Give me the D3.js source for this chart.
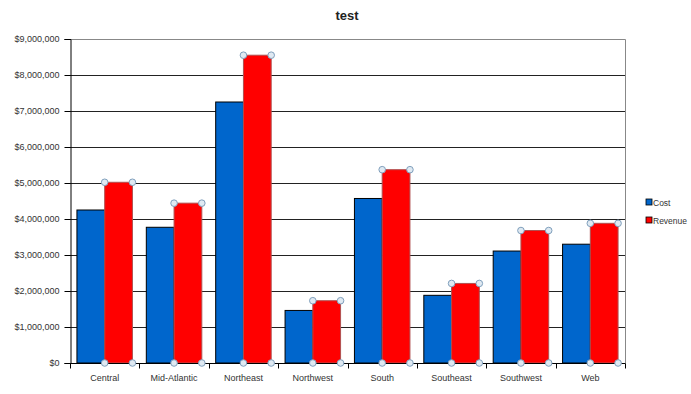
<!DOCTYPE html>
<html><head><meta charset="utf-8">
<script src="https://cdn.jsdelivr.net/npm/d3@7/dist/d3.min.js"></script>
<style>body{margin:0;background:#fff}svg{display:block}text{font-family:"Liberation Sans",Arial,sans-serif}</style>
</head><body><svg id="c" width="691" height="394"></svg>
<script>
const categories=["Central","Mid-Atlantic","Northeast","Northwest","South","Southeast","Southwest","Web"];
const costValues=[4250000,3770000,7250000,1460000,4570000,1880000,3110000,3300000];
const revenueValues=[5020000,4440000,8550000,1730000,5370000,2210000,3680000,3880000];
const seriesNames=["Cost","Revenue"];
const yTicks=[0,1000000,2000000,3000000,4000000,5000000,6000000,7000000,8000000,9000000];
const colors=["#0066cc","#ff0000"];

const svg=d3.select("#c");
const L=70,R=625,T=39,B=363;
const x=d3.scaleBand().domain(categories).range([L,R]).paddingInner(0).paddingOuter(0);
const y=d3.scaleLinear().domain([0,9000000]).range([B,T]);
const inner=0.8;
const bw=x.bandwidth()*inner/2;

// title
svg.append("text").attr("x",347).attr("y",20).attr("text-anchor","middle")
  .attr("font-size",13).attr("font-weight","bold").attr("fill","#222").text("test");

// gridlines
svg.append("g").selectAll("line").data(yTicks.filter(d=>d>0&&d<9000000)).join("line")
  .attr("x1",L).attr("x2",R).attr("y1",d=>Math.round(y(d))+0.5).attr("y2",d=>Math.round(y(d))+0.5)
  .attr("stroke","#222").attr("stroke-width",1);
// plot border top/right
svg.append("path").attr("d",`M${L},${T+0.5}H${R+0.5}V${B}`).attr("fill","none").attr("stroke","#888");

// bars
const data=categories.map((c,i)=>({c,vals:[costValues[i],revenueValues[i]]}));
const g=svg.append("g");
data.forEach(d=>{
  d.vals.forEach((v,k)=>{
    const x0=x(d.c)+x.bandwidth()*(1-inner)/2+k*bw;
    g.append("rect").attr("x",x0).attr("y",y(v)).attr("width",bw).attr("height",y(0)-y(v))
      .attr("fill",colors[k]).attr("stroke",k===0?"#000":"#b05050").attr("stroke-width",1);
  });
});

// y axis
const yAxis=d3.axisLeft(y).tickValues(yTicks).tickSize(6).tickFormat(d=>"$"+d3.format(",")(d));
const ya=svg.append("g").attr("transform",`translate(${L+0.5},0)`).call(yAxis);
ya.select(".domain").attr("stroke","#000");
ya.selectAll(".tick line").attr("stroke","#000");
ya.selectAll("text").attr("font-size",9).attr("fill","#333").attr("x",-11);

// x axis
const xb=svg.append("g").attr("transform",`translate(0,${B+0.5})`);
xb.append("line").attr("x1",L).attr("x2",R+0.5).attr("stroke","#000");
const bounds=d3.range(categories.length+1).map(i=>L+i*x.bandwidth());
xb.selectAll(".tk").data(bounds).join("line").attr("class","tk")
  .attr("x1",d=>Math.round(d)+0.5).attr("x2",d=>Math.round(d)+0.5).attr("y1",0).attr("y2",5).attr("stroke","#000");
xb.selectAll("text").data(categories).join("text")
  .attr("x",d=>x(d)+x.bandwidth()/2).attr("y",17).attr("text-anchor","middle")
  .attr("font-size",9).attr("fill","#333").text(d=>d);

// selection handles on revenue bars
const hs=[];
data.forEach(d=>{
  const x0=x(d.c)+x.bandwidth()*(1-inner)/2+bw;
  const v=d.vals[1];
  hs.push([x0,y(v)],[x0+bw,y(v)],[x0,y(0)],[x0+bw,y(0)]);
});
svg.append("g").selectAll("circle").data(hs).join("circle")
  .attr("cx",d=>d[0]).attr("cy",d=>d[1]).attr("r",3.3)
  .attr("fill","#dfe9f2").attr("stroke","#7f9fbc").attr("stroke-width",1);

// legend
const lg=svg.append("g").attr("transform","translate(646,199)");
seriesNames.forEach((n,i)=>{
  lg.append("rect").attr("x",0).attr("y",i*18).attr("width",6).attr("height",6)
    .attr("fill",colors[i]).attr("stroke","#000").attr("stroke-width",0.8);
  lg.append("text").attr("x",7).attr("y",i*18+6.5).attr("font-size",8.5).attr("fill","#333").text(n);
});
</script></body></html>
